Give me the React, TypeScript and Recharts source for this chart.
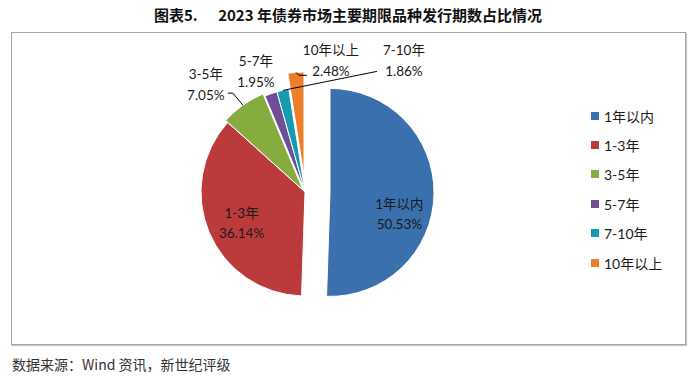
import React from 'react';
import { PieChart, Pie, Cell, Legend } from 'recharts';

const categories = ['1年以内', '1-3年', '3-5年', '5-7年', '7-10年', '10年以上'];
const shares = [50.53, 36.14, 7.05, 1.95, 1.86, 2.48];
const colors = ['#3a70ad', '#bb3b3d', '#86ab3e', '#6f4e98', '#1799af', '#eb7f2c'];

const data = categories.map((name, i) => ({ name, value: shares[i] }));

// slice explosion (px), like the excel original
const explode = [
  { dx: 25, dy: 0.4 },
  { dx: 0, dy: 0 },
  { dx: -2, dy: -2 },
  { dx: 0, dy: 0 },
  { dx: 0, dy: 0 },
  { dx: -1, dy: -16 },
];

type LabelCfg = {
  inside?: boolean;
  r?: number;
  dx: number;
  dy: number;
  gap: number;
  leader?: number[][];
};

// label placement relative to slice anchor
const labelCfg: LabelCfg[] = [
  { inside: true, r: 0.6, dx: 7, dy: 21, gap: 20 },
  { inside: true, r: 0.6, dx: -6, dy: 7, gap: 20 },
  { dx: -37, dy: -21, gap: 21, leader: [[-10, -12], [-15, -12]] },
  { dx: -15, dy: -22, gap: 21 },
  { dx: 121, dy: -30, gap: 21, leader: [[94, -19]] },
  { dx: 35, dy: -12, gap: 21, leader: [[3, 3], [11, 3]] },
];

const RADIAN = Math.PI / 180;
const FONT = "Lato, 'Noto Sans CJK SC', sans-serif";
const CX = 305;
const CY = 192;
const R = 104;

const makeLabel = (owner: number) => (props: any) => {
  const { cx, cy, midAngle, outerRadius, index, name, value } = props;
  if (index !== owner) return null;
  const cfg = labelCfg[index];
  const rr = cfg.inside ? outerRadius * (cfg.r || 0.6) : outerRadius;
  const ex = cx + rr * Math.cos(-midAngle * RADIAN);
  const ey = cy + rr * Math.sin(-midAngle * RADIAN);
  const tx = ex + cfg.dx;
  const ty = ey + cfg.dy;
  const h = cfg.gap / 2;
  let path = '';
  if (cfg.leader) {
    path = `M${ex},${ey}` + cfg.leader.map((p) => ` L${ex + p[0]},${ey + p[1]}`).join('');
  }
  return (
    <g>
      {path && <path d={path} stroke="#000" strokeWidth={1} fill="none" />}
      <text x={tx} y={ty - h} textAnchor="middle" dominantBaseline="central" fontSize={13.5} fontFamily={FONT} fill="#1a1a1a">
        {name}
      </text>
      <text x={tx} y={ty + h} textAnchor="middle" dominantBaseline="central" fontSize={13.5} fontFamily={FONT} fill="#1a1a1a">
        {Number(value).toFixed(2)}%
      </text>
    </g>
  );
};

const renderLegend = () => (
  <div style={{ fontFamily: FONT, fontSize: 14, color: '#1a1a1a' }}>
    {categories.map((c, i) => (
      <div key={c} style={{ height: 29.4, display: 'flex', alignItems: 'center' }}>
        <span style={{ display: 'inline-block', width: 8, height: 8, background: colors[i], marginRight: 5 }} />
        <span>{c}</span>
      </div>
    ))}
  </div>
);

export default function App() {
  return (
    <div style={{ position: 'relative', width: 700, height: 382, margin: -8, background: '#fff', overflow: 'hidden' }}>
      <div
        style={{
          position: 'absolute',
          top: 4,
          left: 0,
          width: 696,
          textAlign: 'center',
          fontFamily: "'Noto Sans CJK SC', sans-serif",
          fontWeight: 'bold',
          fontSize: 15,
          color: '#111',
          whiteSpace: 'pre',
        }}
      >
        {'图表5.      2023 年债券市场主要期限品种发行期数占比情况'}
      </div>
      <div
        style={{
          position: 'absolute',
          left: 11,
          top: 32,
          width: 673,
          height: 311,
          border: '1px solid #a6a6a6',
          boxShadow: '1px 1px 1px #c8c8c8',
        }}
      />
      <div
        style={{
          position: 'absolute',
          left: 12,
          top: 354,
          fontFamily: "'Noto Sans CJK SC', sans-serif",
          fontSize: 14,
          color: '#333',
        }}
      >
        数据来源：Wind 资讯，新世纪评级
      </div>
      <div style={{ position: 'absolute', left: 0, top: 0 }}>
        <PieChart width={700} height={382} margin={{ top: 0, right: 0, bottom: 0, left: 0 }}>
          {categories.map((_, owner) => (
            <Pie
              key={owner}
              data={data}
              dataKey="value"
              nameKey="name"
              cx={CX + explode[owner].dx}
              cy={CY + explode[owner].dy}
              outerRadius={R}
              startAngle={90}
              endAngle={-270}
              isAnimationActive={false}
              legendType="none"
              labelLine={false}
              label={makeLabel(owner)}
            >
              {data.map((d, j) => (
                <Cell
                  key={d.name}
                  fill={j === owner ? colors[j] : 'none'}
                  stroke={j === owner ? '#fff' : 'none'}
                  strokeWidth={1}
                />
              ))}
            </Pie>
          ))}
          <Legend
            layout="vertical"
            content={renderLegend}
            wrapperStyle={{ left: 591, top: 101, width: 100 }}
          />
        </PieChart>
      </div>
    </div>
  );
}
